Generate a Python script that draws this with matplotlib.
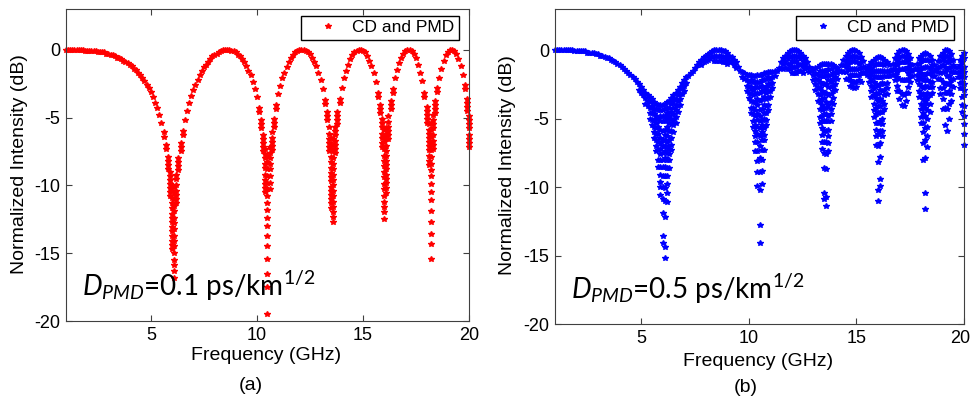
import matplotlib
matplotlib.use('Agg')
import matplotlib.pyplot as plt
from matplotlib.transforms import ScaledTranslation

plt.rcParams['font.family'] = ['Liberation Sans', 'DejaVu Sans']
plt.rcParams['axes.unicode_minus'] = False
plt.rcParams['mathtext.fontset'] = 'custom'
plt.rcParams['mathtext.rm'] = 'Lato'
plt.rcParams['mathtext.it'] = 'Lato:italic'

# ---------------- data (read / estimated from the reference) ----------------
# frequency samples (GHz)
freq_ghz = [
    1.0, 1.1, 1.2, 1.3, 1.4, 1.5, 1.6, 1.7, 1.8, 1.9, 2.0, 2.1, 2.2, 2.3, 2.4, 2.5, 2.6, 2.7, 2.8, 2.9,
    3.0, 3.1, 3.2, 3.3, 3.4, 3.5, 3.6, 3.7, 3.8, 3.9, 4.0, 4.1, 4.2, 4.3, 4.4, 4.5, 4.6, 4.7, 4.8, 4.9,
    5.0, 5.1, 5.2, 5.3, 5.4, 5.5, 5.6, 5.7, 5.8, 5.9, 6.0, 6.1, 6.2, 6.3, 6.4, 6.5, 6.6, 6.7, 6.8, 6.9,
    7.0, 7.1, 7.2, 7.3, 7.4, 7.5, 7.6, 7.7, 7.8, 7.9, 8.0, 8.1, 8.2, 8.3, 8.4, 8.5, 8.6, 8.7, 8.8, 8.9,
    9.0, 9.1, 9.2, 9.3, 9.4, 9.5, 9.6, 9.7, 9.8, 9.9, 10.0, 10.1, 10.2, 10.3, 10.4, 10.5, 10.6, 10.7, 10.8, 10.9,
    11.0, 11.1, 11.2, 11.3, 11.4, 11.5, 11.6, 11.7, 11.8, 11.9, 12.0, 12.1, 12.2, 12.3, 12.4, 12.5, 12.6, 12.7, 12.8, 12.9,
    13.0, 13.1, 13.2, 13.3, 13.4, 13.5, 13.6, 13.7, 13.8, 13.9, 14.0, 14.1, 14.2, 14.3, 14.4, 14.5, 14.6, 14.7, 14.8, 14.9,
    15.0, 15.1, 15.2, 15.3, 15.4, 15.5, 15.6, 15.7, 15.8, 15.9, 16.0, 16.1, 16.2, 16.3, 16.4, 16.5, 16.6, 16.7, 16.8, 16.9,
    17.0, 17.1, 17.2, 17.3, 17.4, 17.5, 17.6, 17.7, 17.8, 17.9, 18.0, 18.1, 18.2, 18.3, 18.4, 18.5, 18.6, 18.7, 18.8, 18.9,
    19.0, 19.1, 19.2, 19.3, 19.4, 19.5, 19.6, 19.7, 19.8, 19.9, 20.0]

# panel (a), D_PMD = 0.1: intensity drop below 0 dB, in 0.1 dB units, one list of dots per frequency
drop_a_tenth_db = [
    [0], [0], [0], [0], [0], [0], [0], [0], [0], [1], [1], [1], [1], [1], [1], [2], [2], [2], [2], [3],
    [3], [4], [4], [5], [6], [6], [7], [8], [9], [10], [11], [12], [14], [15], [17], [19], [21], [23], [26], [28],
    [31], [35], [39], [43], [48], [54], [61, 64], [70, 73], [79, 82, 85, 88], [90, 93, 96, 99, 102, 105, 108],
    [100, 104, 109, 113, 117, 121, 124, 127, 131, 134, 137, 141, 144, 147],
    [101, 105, 110, 115, 119, 124, 128, 132, 137, 141, 145, 150, 155, 159, 163, 168],
    [92, 95, 100, 104, 107, 110, 113], [80, 83, 86, 89], [69, 72, 75], [60, 63], [52], [45], [39], [34],
    [30], [26], [22], [19], [16], [13], [11], [9], [7], [5], [4], [3], [2], [1], [0], [0], [0], [0], [1], [1],
    [2], [4], [5], [7], [9], [12], [16], [19], [24], [29], [35], [43, 46], [52, 55, 58], [63, 66, 69, 72, 75],
    [73, 77, 80, 84, 87, 92, 96, 99, 102, 105],
    [78, 83, 88, 93, 98, 103, 108, 113, 118, 124, 130, 137, 145, 154, 165, 175, 195],
    [72, 76, 80, 84, 88, 93, 98, 103], [61, 65, 68, 71, 74], [51, 54, 57], [41, 44],
    [33], [27], [21], [17], [13], [9], [6], [4], [2], [1], [0], [0], [0], [1], [2], [3], [6], [9], [12], [17],
    [22], [29], [37, 40], [46, 49, 52], [57, 62, 66, 69, 72, 75],
    [65, 70, 74, 79, 83, 87, 91, 94, 97, 101, 104, 107, 110, 113, 117],
    [66, 70, 75, 80, 84, 88, 92, 96, 100, 104, 108, 112, 116, 120, 123, 127],
    [57, 60, 63, 67, 70, 73, 76], [46, 49, 52, 55], [36, 39],
    [28], [21], [16], [11], [7], [4], [2], [1], [0], [0], [1], [2], [5], [8], [12], [17], [24], [32, 35],
    [41, 44, 47], [51, 54, 57, 62, 65, 69, 72],
    [59, 64, 68, 73, 78, 82, 86, 90, 94, 99, 103, 108, 112, 116, 120, 125],
    [58, 62, 66, 71, 75, 78, 82, 85, 88, 92, 95, 98, 102, 106], [49, 53, 57, 60, 63, 66], [38, 41, 44], [29, 32],
    [21], [15], [10], [6], [3], [1], [0], [0], [1], [3], [6], [11], [17], [23], [32, 35], [42, 45, 48, 51, 54],
    [55, 59, 62, 65, 68, 71, 74, 78, 82, 85],
    [54, 59, 64, 69, 74, 79, 84, 89, 93, 99, 105, 111, 119, 127, 136, 143, 154],
    [48, 52, 55, 58, 63, 67, 70, 73], [38, 41, 44, 47], [28, 31],
    [21], [14], [8], [4], [2], [0], [0], [1], [3], [7], [12], [19], [26, 29], [36, 39, 42, 45],
    [49, 52, 55, 58, 63, 66, 69, 72]]

# panel (b), D_PMD = 0.5: same units
drop_b_tenth_db = [
    [0], [0], [0], [0], [0], [0], [0], [0], [0], [1], [1], [1], [1], [1], [1], [2], [2], [2], [2], [3],
    [3], [4], [4], [5], [6], [6], [7], [8], [9], [10], [11], [12], [14], [15], [17], [18], [20], [21], [23], [25, 29],
    [27, 31], [29, 33], [31, 35, 39], [33, 37, 41], [34, 38, 42, 46, 50], [36, 41, 46, 51, 55],
    [38, 43, 47, 51, 56, 60, 64], [39, 43, 48, 53, 57, 61, 66, 70, 74], [40, 44, 50, 56, 61, 67, 73, 80, 85],
    [40, 44, 48, 52, 58, 64, 68, 72, 76, 80, 85, 91, 96, 100, 106],
    [40, 44, 48, 52, 59, 66, 70, 75, 80, 85, 92, 100, 109, 119, 136, 141],
    [39, 43, 48, 52, 58, 62, 66, 70, 74, 79, 85, 92, 101, 110, 122, 144, 152],
    [38, 42, 46, 50, 56, 63, 67, 71, 75, 80, 86, 92, 98, 104, 111],
    [37, 42, 48, 53, 59, 66, 72, 76, 80, 86], [35, 39, 45, 50, 54, 59, 64, 69, 73],
    [33, 37, 42, 47, 51, 55, 60], [31, 36, 40, 44, 49, 53], [29, 33, 37, 41, 45], [27, 32, 36, 40], [24, 28, 32],
    [22, 26, 30], [20, 24], [19], [17], [15], [13], [11], [9], [7, 11], [5, 9], [4, 8], [3, 7], [2, 6], [1, 5],
    [0, 4, 8], [0, 4, 8], [0, 4, 8], [0, 4, 8], [1, 5, 9], [1, 5, 9], [2, 6, 10], [4, 8], [5, 9], [7, 11], [9, 13],
    [12], [15], [16, 20], [17, 21], [18, 22, 26, 30], [18, 23, 27, 31, 35], [18, 22, 27, 32, 37, 42, 46],
    [19, 23, 29, 33, 38, 42, 47, 52, 56], [19, 23, 27, 32, 38, 44, 48, 55, 59, 63, 67, 74],
    [18, 23, 27, 31, 36, 40, 47, 51, 56, 61, 67, 74, 81, 89, 99],
    [18, 23, 27, 31, 37, 44, 48, 52, 57, 63, 70, 79, 89, 102, 128, 141],
    [18, 22, 26, 30, 36, 43, 51, 55, 60, 66, 73, 80, 88, 98], [17, 22, 29, 34, 40, 46, 50, 57, 62, 66, 73],
    [17, 21, 27, 31, 36, 41, 46, 51, 55], [16, 20, 25, 30, 35, 40, 44],
    [16, 21, 25, 30, 34], [16, 20, 24, 28], [15, 19], [15], [13], [9, 13], [6, 10, 14], [4, 8, 13], [2, 6, 10, 14],
    [1, 5, 10, 14], [0, 4, 8, 12, 17], [0, 4, 8, 12, 17], [0, 4, 8, 12, 17], [1, 5, 10, 15], [2, 6, 11, 15],
    [4, 8, 12, 17], [6, 10, 14], [9, 13], [12, 16], [15],
    [14, 18, 22], [13, 17, 21, 25, 29], [12, 18, 22, 27, 32, 37], [11, 15, 19, 23, 28, 33, 38, 43, 49, 53],
    [10, 15, 19, 25, 30, 36, 40, 44, 48, 52, 57, 62, 67, 72],
    [10, 15, 19, 25, 31, 35, 42, 47, 52, 59, 67, 75, 86, 104, 109],
    [10, 15, 19, 25, 31, 38, 42, 47, 52, 59, 67, 76, 87, 107, 114],
    [10, 14, 18, 22, 27, 33, 40, 48, 52, 58, 63, 68, 74], [10, 14, 18, 23, 27, 32, 38, 43, 47, 52],
    [11, 17, 21, 26, 30, 35, 39],
    [12, 16, 20, 25, 29], [13, 17, 21], [15], [11, 15], [7, 11, 16], [4, 8, 12, 16, 21], [2, 6, 10, 14, 21],
    [1, 5, 9, 14, 18, 22, 26], [0, 4, 8, 14, 18, 23, 27], [0, 4, 8, 14, 18, 23, 28],
    [1, 5, 9, 14, 18, 23, 27], [2, 6, 10, 14, 18, 22], [5, 9, 13, 17, 23], [8, 12, 17], [12, 16], [14, 18],
    [11, 15, 19, 23], [9, 13, 17, 21, 26, 30, 34], [7, 11, 15, 19, 23, 28, 33, 39, 44, 49],
    [6, 10, 15, 20, 25, 31, 35, 42, 47, 53, 58, 63, 69],
    [5, 10, 15, 20, 26, 32, 37, 41, 46, 53, 61, 70, 82, 102, 110],
    [5, 10, 15, 20, 25, 29, 36, 41, 45, 52, 59, 68, 78, 94, 99],
    [6, 10, 15, 20, 24, 30, 37, 45, 50, 54, 59, 63], [7, 11, 15, 19, 25, 29, 33, 39, 43],
    [9, 15, 19, 24, 28, 32], [11, 15, 19], [15], [10, 14, 18], [6, 10, 14, 18, 22],
    [3, 7, 11, 16, 20, 26, 30], [1, 5, 9, 14, 21, 30, 36], [0, 4, 9, 14, 22, 32, 40], [0, 4, 9, 14, 22, 33, 41],
    [1, 5, 9, 14, 22, 31, 37], [3, 7, 12, 17, 21, 27, 31], [6, 10, 14, 19, 23], [11, 15, 19], [14],
    [10, 14, 18, 22], [6, 10, 15, 20, 25, 30, 34],
    [4, 8, 13, 17, 21, 26, 32, 39, 43, 49, 53], [3, 7, 13, 18, 22, 28, 32, 36, 40, 46, 53, 60, 68, 80],
    [2, 7, 12, 18, 22, 26, 33, 37, 42, 48, 57, 66, 79, 104, 116],
    [3, 7, 12, 17, 22, 27, 31, 35, 39, 44, 50, 56, 63, 71], [4, 8, 13, 17, 23, 27, 33, 39, 45],
    [7, 11, 15, 19, 23, 27, 31], [11, 15, 19], [14], [8, 12, 16, 21], [4, 8, 12, 17, 21, 28, 32],
    [2, 6, 11, 16, 23, 28, 36, 43], [0, 4, 8, 12, 16, 25, 31, 42, 55], [0, 4, 9, 14, 19, 25, 31, 43, 59],
    [1, 5, 9, 13, 19, 24, 30, 39, 50], [3, 7, 12, 16, 22, 26, 32, 37], [7, 11, 16, 21, 27], [12, 16],
    [12, 16, 20], [7, 11, 16, 20, 24, 28], [4, 9, 14, 19, 23, 28, 34, 40, 45],
    [2, 6, 12, 16, 20, 25, 29, 33, 41, 48, 54, 61, 69]]

x_ticks = [5, 10, 15, 20]
y_ticks = [-20, -15, -10, -5, 0]
series_label = 'CD and PMD'
panel_tags = ['(a)', '(b)']
pmd_values = ['0.1', '0.5']
colors = ['#ff0000', '#0000ff']
# ---------------------------------------------------------------------------

fig = plt.figure(figsize=(9.72, 4.01), dpi=100)
axes = [fig.add_axes([0.0679, 0.1995, 0.4146, 0.778]),
        fig.add_axes([0.571, 0.192, 0.4208, 0.7855])]
legend_anchor = [(0.975, 0.978), (0.9756, 0.978)]

for ax, drops, color, dpmd, leg in zip(axes, [drop_a_tenth_db, drop_b_tenth_db], colors, pmd_values, legend_anchor):
    xs = [f for f, col in zip(freq_ghz, drops) for _ in col]
    ys = [-v / 10 for col in drops for v in col]
    ax.plot(xs, ys, linestyle='none', marker='*', ms=4, color=color, label=series_label, clip_on=False)
    ax.set_xlim(1, 20)
    ax.set_ylim(-20, 3)
    ax.set_xticks(x_ticks)
    ax.set_yticks(y_ticks)
    ax.tick_params(direction='in', top=True, right=True, labelsize=13, length=4, pad=4, color='#404040')
    for sp in ax.spines.values():
        sp.set_color('#404040')
    ax.legend(loc='upper right', bbox_to_anchor=leg, borderaxespad=0, fontsize=12.5, fancybox=False,
              edgecolor='black', framealpha=1, handlelength=2.6, handletextpad=0.1, borderpad=0.25, numpoints=1)
    ax.text(0.04, 0.08, r'$D_{PMD}$=' + dpmd + r' ps/km$^{\mathrm{1/2}}$', transform=ax.transAxes,
            fontsize=20, family='Lato', va='baseline', ha='left')

lab = axes[1].get_xticklabels()[-1]
lab.set_transform(lab.get_transform() + ScaledTranslation(-4 / 100, 0, fig.dpi_scale_trans))

W, H = 972, 401
fig.text(20 / W, 1 - 164 / H, 'Normalized Intensity (dB)', rotation=90, ha='center', va='center', fontsize=14)
fig.text(507 / W, 1 - 165 / H, 'Normalized Intensity (dB)', rotation=90, ha='center', va='center', fontsize=14)
fig.text(266.5 / W, 1 - 356 / H, 'Frequency (GHz)', ha='center', va='center', fontsize=14)
fig.text(758 / W, 1 - 361 / H, 'Frequency (GHz)', ha='center', va='center', fontsize=14)
fig.text(251 / W, 1 - 386 / H, panel_tags[0], ha='center', va='center', fontsize=14)
fig.text(746 / W, 1 - 387 / H, panel_tags[1], ha='center', va='center', fontsize=14)
fig.savefig('out.png', dpi=100)
